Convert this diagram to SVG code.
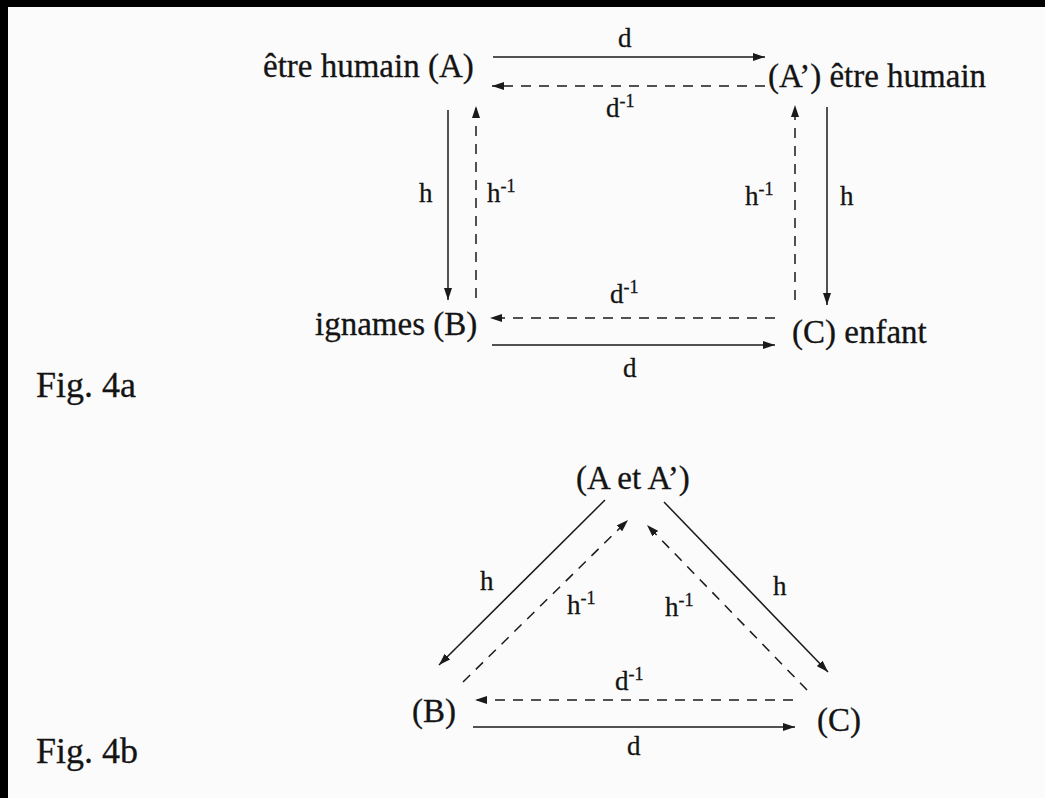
<svg xmlns="http://www.w3.org/2000/svg" width="1045" height="798" viewBox="0 0 1045 798">
<style>
.t{font-family:"Liberation Serif","DejaVu Serif",serif;font-size:33px;fill:#141414;stroke:#141414;stroke-width:0.3}
.fig{font-family:"Liberation Serif","DejaVu Serif",serif;font-size:36px;fill:#141414;stroke:#141414;stroke-width:0.3}
.l{font-family:"Liberation Serif","DejaVu Serif",serif;font-size:27px;fill:#141414;stroke:#141414;stroke-width:0.3}
.s{font-size:18px}
.ln{stroke:#1a1a1a;stroke-width:1.5;fill:none}
.ds{stroke:#1a1a1a;stroke-width:1.5;fill:none;stroke-dasharray:10 8}
</style>
<defs>
<marker id="ah" markerUnits="userSpaceOnUse" markerWidth="12" markerHeight="8" refX="12" refY="4" orient="auto">
<path d="M0,0 L12,4 L0,8 z" fill="#1a1a1a"/>
</marker>
</defs>
<rect x="0" y="0" width="1045" height="798" fill="#fbfbfb"/>
<rect x="0" y="0" width="1045" height="7" fill="#000"/>
<rect x="0" y="0" width="8" height="798" fill="#000"/>

<g id="node-A"><text class="t" x="263" y="77">être humain (A)</text></g>
<g id="node-A2"><text class="t" x="768" y="87">(A’) être humain</text></g>
<g id="node-B"><text class="t" x="315" y="335">ignames (B)</text></g>
<g id="node-C"><text class="t" x="792" y="343">(C) enfant</text></g>
<g id="fig4a"><text class="fig" x="36" y="397">Fig. 4a</text></g>

<g id="node-AA"><text class="t" x="576" y="489">(A et A’)</text></g>
<g id="node-Bb"><text class="t" x="412" y="722">(B)</text></g>
<g id="node-Cb"><text class="t" x="817" y="731">(C)</text></g>
<g id="fig4b"><text class="fig" x="36" y="763">Fig. 4b</text></g>

<g id="connectors">
<line class="ln" x1="493" y1="57" x2="765" y2="57" marker-end="url(#ah)"/>
<line class="ds" x1="765" y1="86" x2="492" y2="86" marker-end="url(#ah)"/>
<line class="ln" x1="448" y1="110" x2="448" y2="300" marker-end="url(#ah)"/>
<line class="ds" x1="476" y1="298" x2="476" y2="106" marker-end="url(#ah)"/>
<line class="ds" x1="795" y1="300" x2="795" y2="105" marker-end="url(#ah)"/>
<line class="ln" x1="827" y1="107" x2="827" y2="305" marker-end="url(#ah)"/>
<line class="ds" x1="775" y1="318" x2="490" y2="318" marker-end="url(#ah)"/>
<line class="ln" x1="492" y1="345" x2="775" y2="345" marker-end="url(#ah)"/>

<line class="ln" x1="605" y1="500" x2="439" y2="665" marker-end="url(#ah)"/>
<line class="ds" x1="463" y1="682" x2="628" y2="520" marker-end="url(#ah)"/>
<line class="ds" x1="807" y1="690" x2="647" y2="525" marker-end="url(#ah)"/>
<line class="ln" x1="664" y1="502" x2="828" y2="672" marker-end="url(#ah)"/>
<line class="ds" x1="793" y1="700" x2="475" y2="700" marker-end="url(#ah)"/>
<line class="ln" x1="473" y1="727" x2="795" y2="727" marker-end="url(#ah)"/>

<text class="l" x="618" y="47">d</text>
<text class="l" x="606" y="117">d<tspan class="s" dy="-10">-1</tspan></text>
<text class="l" x="419" y="202">h</text>
<text class="l" x="487" y="202">h<tspan class="s" dy="-10">-1</tspan></text>
<text class="l" x="745" y="205">h<tspan class="s" dy="-10">-1</tspan></text>
<text class="l" x="840" y="205">h</text>
<text class="l" x="610" y="303">d<tspan class="s" dy="-10">-1</tspan></text>
<text class="l" x="623" y="377">d</text>

<text class="l" x="480" y="590">h</text>
<text class="l" x="567" y="614">h<tspan class="s" dy="-10">-1</tspan></text>
<text class="l" x="665" y="616">h<tspan class="s" dy="-10">-1</tspan></text>
<text class="l" x="773" y="595">h</text>
<text class="l" x="615" y="690">d<tspan class="s" dy="-10">-1</tspan></text>
<text class="l" x="627" y="755">d</text>
</g>
</svg>
